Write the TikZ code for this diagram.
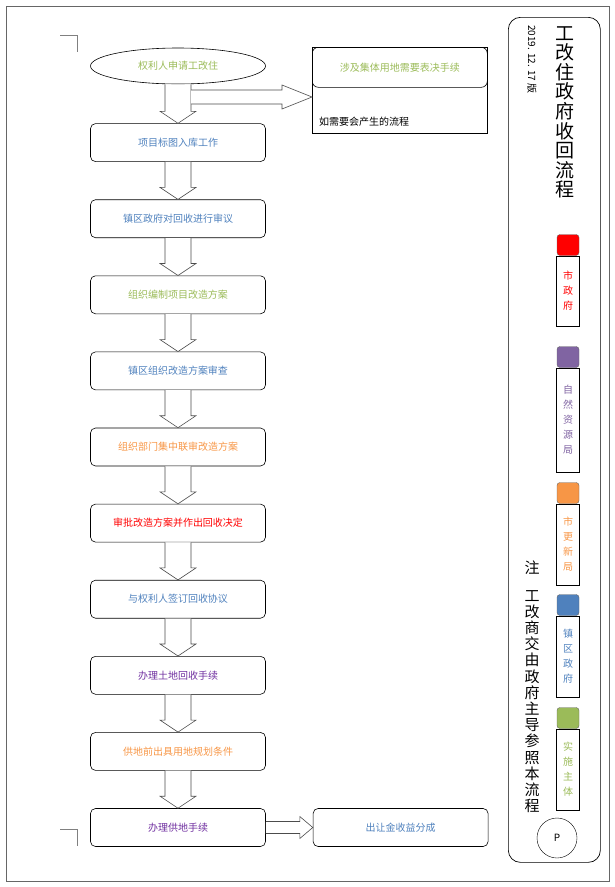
\documentclass[tikz,border=0pt]{standalone}
\usepackage{fontspec}
\setmainfont{Noto Sans CJK SC}
\usepackage{tikz}
\usetikzlibrary{positioning,shapes}
\definecolor{cred}{HTML}{FF0000}
\definecolor{cpurple}{HTML}{8064A2}
\definecolor{corange}{HTML}{F79646}
\definecolor{cblue}{HTML}{4F81BD}
\definecolor{cgreen}{HTML}{9BBB59}
\definecolor{cpurpletxt}{HTML}{7030A0}
\tikzstyle{stepbox}=[draw,rounded corners=5pt,minimum width=175pt,minimum height=38pt,font=\fontsize{10}{12}\selectfont,line width=0.6pt]
\tikzstyle{blk}=[draw=black!70,fill=white,line width=0.6pt]
\tikzstyle{swatch}=[draw=black!60,rounded corners=3pt,minimum width=22pt,minimum height=21pt,inner sep=0pt]
\tikzstyle{keybox}=[draw,minimum width=23pt,inner sep=2pt,font=\fontsize{10}{15}\selectfont,align=center,anchor=north]
\newcommand{\downblk}[2]{%
  \draw[blk] ([xshift=-13pt]#1.south) -- ([xshift=-13pt,yshift=12pt]#2.north)
    -- ([xshift=-18pt,yshift=12pt]#2.north) -- (#2.north)
    -- ([xshift=18pt,yshift=12pt]#2.north) -- ([xshift=13pt,yshift=12pt]#2.north)
    -- ([xshift=13pt]#1.south);}
\newcommand{\rightblk}[5]{% from, to, shaft half, head half, head length
  \draw[blk] ([yshift=#3]#1) -- ([xshift=-#5,yshift=#3]#2) -- ([xshift=-#5,yshift=#4]#2)
    -- (#2) -- ([xshift=-#5,yshift=-#4]#2) -- ([xshift=-#5,yshift=-#3]#2)
    -- ([yshift=-#3]#1);}
\begin{document}
\begin{tikzpicture}[x=1pt,y=-1pt]
      \useasboundingbox (0,0) rectangle (615,887);
      \draw[black!60] (6,6) rectangle (609,881);
      % corner marks
      \draw[black!50] (60,35) -- (77,35) -- (77,52);
      \draw[black!50] (60,829) -- (77,829) -- (77,846);
      % main chain
      \node[draw,ellipse,minimum width=175pt,minimum height=36pt,font=\fontsize{10}{12}\selectfont,text=cgreen,line width=0.6pt] (s0) at (178,66) {权利人申请工改住};
      \node[stepbox,text=cblue,below=39pt of s0] (s1) {项目标图入库工作};
      \node[stepbox,text=cblue,below=37.5pt of s1] (s2) {镇区政府对回收进行审议};
      \node[stepbox,text=cgreen,below=37.5pt of s2] (s3) {组织编制项目改造方案};
      \node[stepbox,text=cblue,below=37.5pt of s3] (s4) {镇区组织改造方案审查};
      \node[stepbox,text=corange,below=37.5pt of s4] (s5) {组织部门集中联审改造方案};
      \node[stepbox,text=cred,below=37.5pt of s5] (s6) {审批改造方案并作出回收决定};
      \node[stepbox,text=cblue,below=37.5pt of s6] (s7) {与权利人签订回收协议};
      \node[stepbox,text=cpurpletxt,below=37.5pt of s7] (s8) {办理土地回收手续};
      \node[stepbox,text=corange,below=37.5pt of s8] (s9) {供地前出具用地规划条件};
      \node[stepbox,text=cpurpletxt,below=37.5pt of s9] (s10) {办理供地手续};
      \node[stepbox,text=cblue,right=47pt of s10] (gain) {出让金收益分成};
      \downblk{s0}{s1}
      \downblk{s1}{s2}
      \downblk{s2}{s3}
      \downblk{s3}{s4}
      \downblk{s4}{s5}
      \downblk{s5}{s6}
      \downblk{s6}{s7}
      \downblk{s7}{s8}
      \downblk{s8}{s9}
      \downblk{s9}{s10}
      % optional branch
      \node[draw,minimum width=175pt,minimum height=86pt,anchor=north west,line width=0.6pt] (opt) at (312,47) {};
      \node[draw,rounded corners=6pt,minimum width=175pt,minimum height=40pt,anchor=north west,text=cgreen,font=\fontsize{10}{12}\selectfont,line width=0.6pt] (vote) at (312,47) {涉及集体用地需要表决手续};
      \node[anchor=west,font=\fontsize{10}{12}\selectfont,inner sep=0pt] (optnote) at (319,122) {如需要会产生的流程};
      \coordinate (br) at (191,97);
      \coordinate (optin) at (312,97);
      \rightblk{br}{optin}{7pt}{12pt}{30pt}
      \rightblk{s10.east}{gain.west}{6pt}{11pt}{13pt}
      % side panel
      \node[draw,rounded corners=12pt,minimum width=92pt,minimum height=845pt,anchor=north west,line width=0.7pt] (panel) at (508,17) {};
      \node[anchor=north,align=center,font=\fontsize{19}{19.6}\selectfont,inner sep=0pt] (title) at (565,26) {工\\改\\住\\政\\府\\收\\回\\流\\程};
      \node[rotate=-90,anchor=west,font=\fontsize{10}{12}\selectfont,inner sep=0pt] (date) at (532,25) {2019. 12. 17 版};
      \node[swatch,fill=cred] (k1) at (568,245) {};
      \node[keybox,text=cred,minimum height=70pt] (t1) at (k1.south) {市\\政\\府};
      \node[swatch,fill=cpurple] (k2) at (568,357) {};
      \node[keybox,text=cpurple,minimum height=104pt] (t2) at (k2.south) {自\\然\\资\\源\\局};
      \node[swatch,fill=corange] (k3) at (568,493) {};
      \node[keybox,text=corange,minimum height=81pt] (t3) at (k3.south) {市\\更\\新\\局};
      \node[swatch,fill=cblue] (k4) at (568,605) {};
      \node[keybox,text=cblue,minimum height=81pt] (t4) at (k4.south) {镇\\区\\政\\府};
      \node[swatch,fill=cgreen] (k5) at (568,718) {};
      \node[keybox,text=cgreen,minimum height=81pt] (t5) at (k5.south) {实\\施\\主\\体};
      \node[font=\fontsize{15}{17}\selectfont,inner sep=0pt] (note) at (532,568) {注};
      \node[anchor=north,align=center,font=\fontsize{15}{16.2}\selectfont,inner sep=0pt] (notetxt) at (532,590) {工\\改\\商\\交\\由\\政\\府\\主\\导\\参\\照\\本\\流\\程};
      \node[draw,circle,minimum size=40pt,font=\fontsize{10}{12}\selectfont] (pg) at (557,838) {P};
\end{tikzpicture}
\end{document}
